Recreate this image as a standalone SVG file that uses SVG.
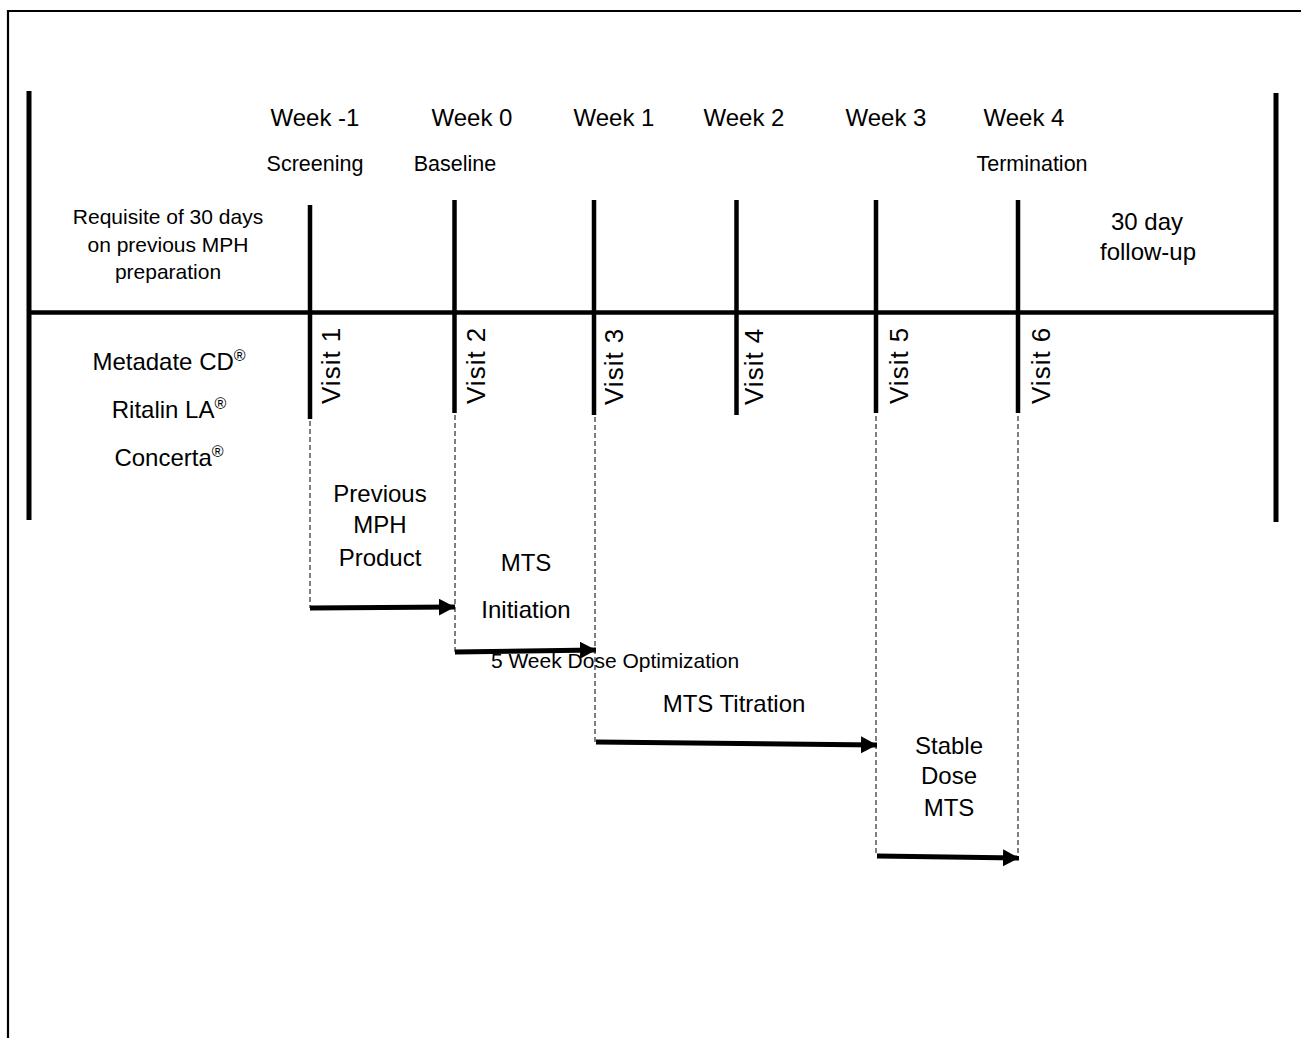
<svg xmlns="http://www.w3.org/2000/svg" width="1301" height="1038" viewBox="0 0 1301 1038">
<defs>
<style>
text{font-family:"Liberation Sans",Arial,sans-serif;fill:#000}
.wk{font-size:24px;text-anchor:middle}
.sub{font-size:21.5px;text-anchor:middle}
.lbl{font-size:24px;text-anchor:middle}
.req{font-size:21px;text-anchor:middle}
.vis{font-size:26px;letter-spacing:1px}
.sm{font-size:21px;text-anchor:middle}
.bar{stroke:#000;stroke-width:5;fill:none}
.tick{stroke:#000;stroke-width:4.5;fill:none}
.dash{stroke:#000;stroke-width:1;stroke-dasharray:5,3;fill:none}
.arr{stroke:#000;stroke-width:5;fill:none;marker-end:url(#ah)}
</style>
<marker id="ah" markerUnits="userSpaceOnUse" markerWidth="17" markerHeight="18" refX="16" refY="8.5" orient="auto">
<path d="M0,0 L16,8.5 L0,17 z" fill="#000"/>
</marker>
</defs>
<rect width="1301" height="1038" fill="#fff"/>
<g id="frame">
<path d="M8,1038 V11 H1301" stroke="#000" stroke-width="2.2" fill="none"/>
</g>
<g id="timeline">
<line class="bar" x1="29" y1="91" x2="29" y2="520"/>
<line class="bar" x1="1276" y1="93" x2="1276" y2="522"/>
<line class="tick" x1="29" y1="312.5" x2="1276" y2="312.5"/>
</g>
<g id="visit1"><line class="tick" x1="310" y1="205" x2="310" y2="419"/><text class="vis" transform="translate(340,404) rotate(-90)">Visit 1</text></g>
<g id="visit2"><line class="tick" x1="454.5" y1="200" x2="454.5" y2="413"/><text class="vis" transform="translate(485,404) rotate(-90)">Visit 2</text></g>
<g id="visit3"><line class="tick" x1="594" y1="200" x2="594" y2="415"/><text class="vis" transform="translate(623,405) rotate(-90)">Visit 3</text></g>
<g id="visit4"><line class="tick" x1="736.5" y1="200" x2="736.5" y2="415"/><text class="vis" transform="translate(763,405) rotate(-90)">Visit 4</text></g>
<g id="visit5"><line class="tick" x1="876" y1="200" x2="876" y2="413"/><text class="vis" transform="translate(908,404) rotate(-90)">Visit 5</text></g>
<g id="visit6"><line class="tick" x1="1018" y1="200" x2="1018" y2="413"/><text class="vis" transform="translate(1050,404) rotate(-90)">Visit 6</text></g>
<g id="weeks">
<text class="wk" x="315" y="126">Week -1</text>
<text class="wk" x="472" y="126">Week 0</text>
<text class="wk" x="614" y="126">Week 1</text>
<text class="wk" x="744" y="126">Week 2</text>
<text class="wk" x="886" y="126">Week 3</text>
<text class="wk" x="1024" y="126">Week 4</text>
<text class="sub" x="315" y="171">Screening</text>
<text class="sub" x="455" y="171">Baseline</text>
<text class="sub" x="1032" y="171">Termination</text>
</g>
<g id="requisite">
<text class="req" x="168" y="224">Requisite of 30 days</text>
<text class="req" x="168" y="251.5">on previous MPH</text>
<text class="req" x="168" y="279">preparation</text>
</g>
<g id="followup">
<text class="lbl" x="1147" y="230">30 day</text>
<text class="lbl" x="1148" y="260">follow-up</text>
</g>
<g id="drugs">
<text class="lbl" x="169" y="370">Metadate CD<tspan font-size="16" dy="-9">®</tspan></text>
<text class="lbl" x="169" y="418">Ritalin LA<tspan font-size="16" dy="-9">®</tspan></text>
<text class="lbl" x="169" y="466">Concerta<tspan font-size="16" dy="-9">®</tspan></text>
</g>
<g id="phase-previous">
<text class="lbl" x="380" y="502">Previous</text>
<text class="lbl" x="380" y="533">MPH</text>
<text class="lbl" x="380" y="566">Product</text>
</g>
<g id="phase-initiation">
<text class="lbl" x="526" y="571">MTS</text>
<text class="lbl" x="526" y="618">Initiation</text>
</g>
<g id="phase-titration">
<text class="lbl" x="734" y="712">MTS Titration</text>
</g>
<g id="phase-stable">
<text class="lbl" x="949" y="754">Stable</text>
<text class="lbl" x="949" y="784">Dose</text>
<text class="lbl" x="949" y="816">MTS</text>
</g>
<g id="connectors">
<line class="dash" x1="310" y1="421" x2="310" y2="608"/>
<line class="dash" x1="455" y1="415" x2="455" y2="652"/>
<line class="dash" x1="595" y1="417" x2="595" y2="742"/>
<line class="dash" x1="876" y1="416" x2="876" y2="856"/>
<line class="dash" x1="1018" y1="416" x2="1018" y2="858"/>
<line class="arr" x1="310" y1="608" x2="455" y2="607"/>
<line class="arr" x1="455" y1="652" x2="596" y2="650"/>
<line class="arr" x1="596" y1="742" x2="877" y2="745"/>
<line class="arr" x1="877" y1="856" x2="1019" y2="858"/>
</g>
<g id="optimization">
<text class="sm" x="615" y="668">5 Week Dose Optimization</text>
</g>
</svg>
